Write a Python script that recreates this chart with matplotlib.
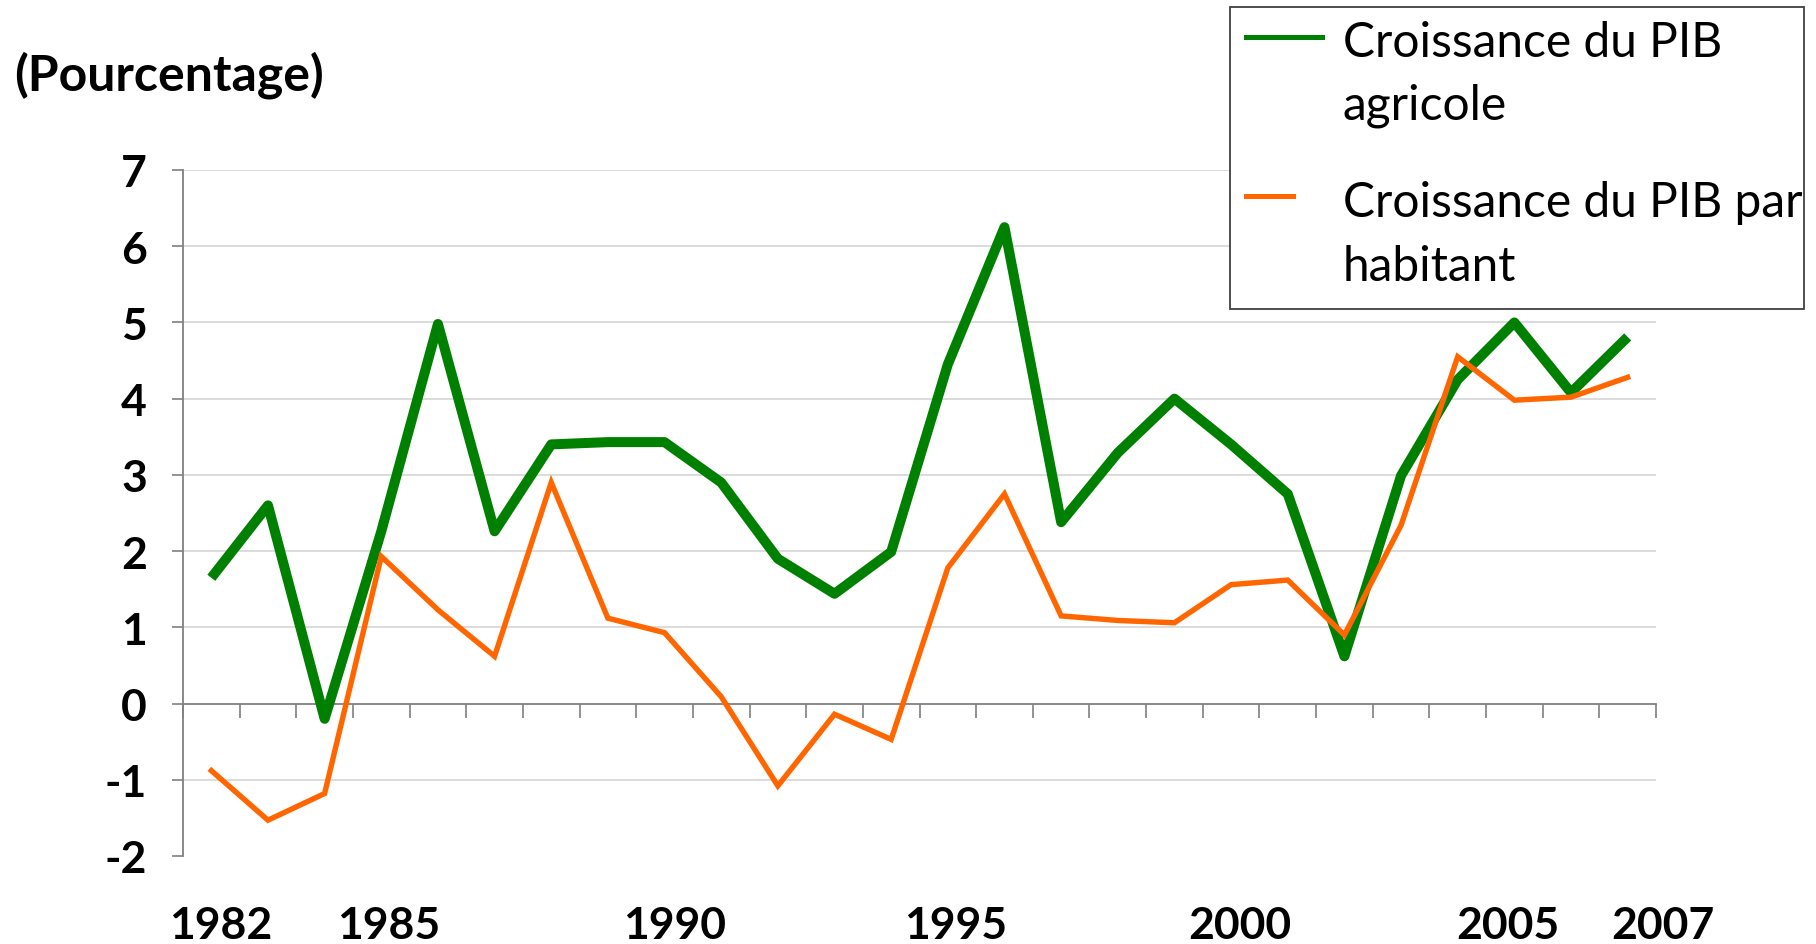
import numpy as np
import matplotlib
matplotlib.use('Agg')
import matplotlib.pyplot as plt
from matplotlib.lines import Line2D
from matplotlib.patches import Rectangle
import matplotlib.transforms as mtransforms

plt.rcParams['font.family'] = ['Lato', 'DejaVu Sans']
plt.rcParams['axes.unicode_minus'] = False

years = np.arange(1982, 2008)
pib_agricole = [1.65, 2.6, -0.2, 2.26, 4.98, 2.26, 3.4, 3.43, 3.43, 2.9, 1.9, 1.44, 1.99,
                4.45, 6.25, 2.38, 3.29, 4.0, 3.4, 2.75, 0.62, 2.99, 4.25, 5.0, 4.08, 4.81]
pib_habitant = [-0.88, -1.53, -1.18, 1.93, 1.23, 0.62, 2.9, 1.12, 0.93, 0.09, -1.08, -0.14, -0.47,
                1.78, 2.75, 1.15, 1.09, 1.06, 1.56, 1.62, 0.9, 2.34, 4.55, 3.98, 4.02, 4.28]
label_years = [1982, 1985, 1990, 1995, 2000, 2005, 2007]
label_dx = [9, 7, 10, 8, 9, -6, 35]   # pixel shifts as in the original
label_dy = [3, 0, 0, 0, 0, 0, 0]
leg_lines = [['Croissance du PIB', 'agricole'], ['Croissance du PIB par', 'habitant']]

green = '#008000'
orange = '#FF6600'

W, H = 1816, 945
fig = plt.figure(figsize=(W / 100, H / 100), dpi=100)
ax = fig.add_axes([183 / W, 1 - 857 / H, (1656 - 183) / W, (857 - 171) / H])

ax.plot(years, pib_agricole, color=green, lw=7.2, solid_joinstyle='round',
        solid_capstyle='butt', zorder=3)
ax.plot(years, pib_habitant, color=orange, lw=3.9, solid_joinstyle='miter', zorder=4)

ax.set_xlim(1981.5, 2007.5)
ax.set_ylim(-2, 7)

for v in range(-1, 8):
    if v != 0:
        ax.axhline(v, color='#d9d9d9', lw=1.3, zorder=1)

for s in ['top', 'right']:
    ax.spines[s].set_visible(False)
ax.spines['bottom'].set_position(('data', 0))
ax.spines['bottom'].set_color('#808080')
ax.spines['left'].set_color('#808080')
ax.spines['bottom'].set_linewidth(1.3)
ax.spines['left'].set_linewidth(1.3)

ax.set_yticks(range(-2, 8))
ax.tick_params(axis='y', direction='out', length=8, width=1.2, color='#808080',
               labelsize=32, pad=18)
for t in ax.get_yticklabels():
    t.set_fontweight('bold')

ax.set_xticks(np.arange(1981.5, 2008, 1.0))
ax.tick_params(axis='x', direction='out', length=10, width=1.2, color='#808080',
               labelbottom=False)

for yr, dx, dy in zip(label_years, label_dx, label_dy):
    tr = ax.transData + mtransforms.ScaledTranslation(dx / 100, dy / 100, fig.dpi_scale_trans)
    tr = mtransforms.blended_transform_factory(tr, fig.transFigure)
    ax.text(yr, 1 - 926 / H, str(yr), transform=tr, ha='center', va='center',
            fontsize=32, fontweight='bold')

fig.text(14 / W, 1 - 75 / H, '(Pourcentage)', fontsize=36, fontweight='bold',
         ha='left', va='center')

# legend box drawn by hand, text clipped at the frame like the original
box = Rectangle((1230 / W, 1 - 310 / H), (1804 - 1230) / W, (310 - 8) / H,
                transform=fig.transFigure, facecolor='white', edgecolor='#404040', lw=1.3)
fig.add_artist(box)
fig.add_artist(Line2D([1246 / W, 1322 / W], [1 - 38 / H, 1 - 38 / H], color=green, lw=3.6,
                      transform=fig.transFigure))
fig.add_artist(Line2D([1246 / W, 1293 / W], [1 - 197 / H, 1 - 197 / H], color=orange, lw=3.6,
                      transform=fig.transFigure))
baselines = [[57, 120], [217, 281]]
for lines, bls in zip(leg_lines, baselines):
    for txt, bl in zip(lines, bls):
        t = fig.text(1343 / W, 1 - bl / H, txt, fontsize=34.5, ha='left', va='baseline')
        t.set_clip_path(box)

fig.savefig('out.png', dpi=100)
